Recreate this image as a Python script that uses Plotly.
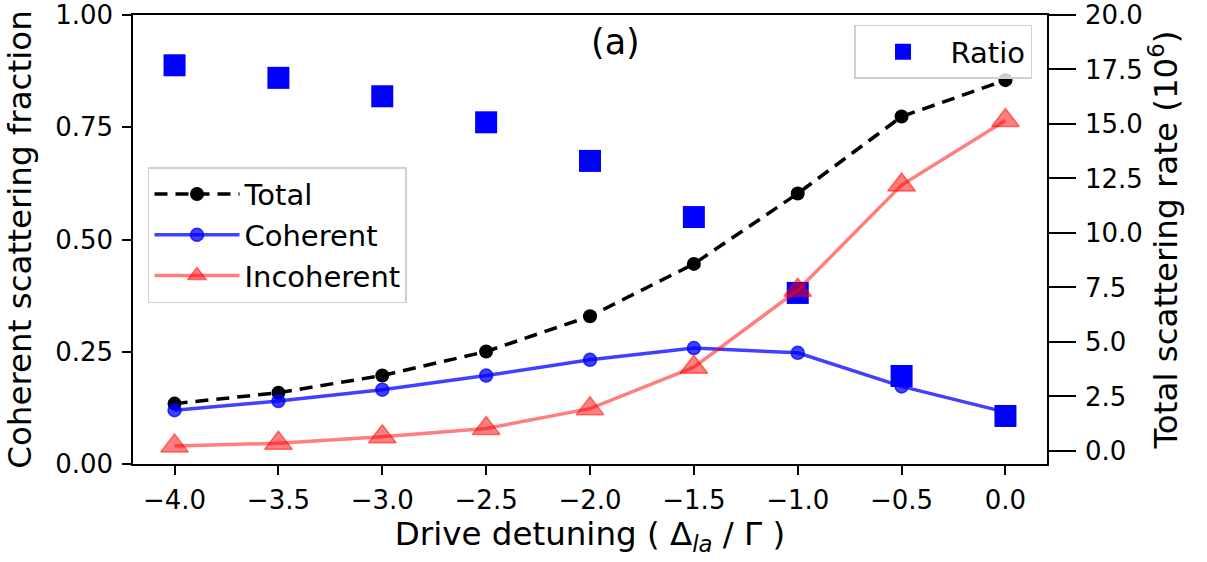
import plotly.graph_objects as go

# ---- data ----
detuning = [-4.0, -3.5, -3.0, -2.5, -2.0, -1.5, -1.0, -0.5, 0.0]
total = [2.17, 2.67, 3.46, 4.56, 6.18, 8.58, 11.81, 15.34, 17.01]
coherent = [1.87, 2.29, 2.81, 3.46, 4.18, 4.72, 4.50, 2.96, 1.78]
incoherent = [0.23, 0.35, 0.65, 1.03, 1.94, 3.84, 7.37, 12.2, 15.16]
ratio = [0.888, 0.860, 0.819, 0.761, 0.675, 0.550, 0.381, 0.196, 0.107]

x_ticks = [-4.0, -3.5, -3.0, -2.5, -2.0, -1.5, -1.0, -0.5, 0.0]
left_ticks = [0.0, 0.25, 0.5, 0.75, 1.0]
right_ticks = [0.0, 2.5, 5.0, 7.5, 10.0, 12.5, 15.0, 17.5, 20.0]

FONT = "DejaVu Sans"
TICK_SIZE = 26
TITLE_SIZE = 32.5

fig = go.Figure()

# Ratio on the left axis
fig.add_trace(go.Scatter(
    x=detuning, y=ratio, mode="markers", name="Ratio",
    marker=dict(symbol="square", size=22, color="#0000ff", line=dict(width=0)),
    xaxis="x", yaxis="y", legend="legend2",
))

# Rates on the right axis
fig.add_trace(go.Scatter(
    x=detuning, y=total, mode="lines+markers", name="Total",
    line=dict(color="black", width=3.5, dash="13px,8px"),
    marker=dict(symbol="circle", size=14, color="black"),
    xaxis="x", yaxis="y2", legend="legend",
))
fig.add_trace(go.Scatter(
    x=detuning, y=coherent, mode="lines+markers", name="Coherent",
    line=dict(color="rgba(0,0,255,0.75)", width=3.5),
    marker=dict(symbol="circle", size=13, color="rgba(0,0,255,0.75)",
                line=dict(color="rgba(0,0,255,0.75)", width=1.5)),
    xaxis="x", yaxis="y2", legend="legend",
))
fig.add_trace(go.Scatter(
    x=detuning, y=incoherent, mode="lines+markers", name="Incoherent",
    line=dict(color="rgba(255,0,0,0.5)", width=3.5),
    marker=dict(symbol="triangle-up", size=24, color="rgba(255,0,0,0.5)",
                line=dict(color="rgba(255,0,0,0.5)", width=1.5)),
    xaxis="x", yaxis="y2", legend="legend",
))

axis_common = dict(
    showline=True, linecolor="black", linewidth=1.5,
    ticks="outside", tickcolor="black", tickwidth=1.5,
    showgrid=False, zeroline=False, ticklabeloverflow="allow",
    automargin=False,
    tickfont=dict(family=FONT, size=TICK_SIZE, color="black"),
)

fig.update_layout(
    width=1207, height=562,
    margin=dict(l=133, r=160, t=15, b=98, autoexpand=False),
    paper_bgcolor="white", plot_bgcolor="white",
    font=dict(family=FONT, color="black"),
    xaxis=dict(
        range=[-4.2, 0.2], tickvals=x_ticks, tickformat=".1f", ticklen=9,
        mirror=True, ticklabelstandoff=3,
        title=dict(text="Drive detuning ( Δ<sub><i>la</i></sub> / Γ )",
                   font=dict(family=FONT, size=TITLE_SIZE, color="black"), standoff=6),
        **axis_common,
    ),
    yaxis=dict(
        range=[0, 1.0], tickvals=left_ticks, tickformat=".2f", ticklen=9,
        ticklabelstandoff=4,
        title=dict(text="Coherent scattering fraction",
                   font=dict(family=FONT, size=TITLE_SIZE, color="black"), standoff=14),
        **axis_common,
    ),
    yaxis2=dict(
        range=[-0.6, 20.0], tickvals=right_ticks, tickformat=".1f", ticklen=27,
        overlaying="y", side="right", ticklabelstandoff=4,
        title=dict(text="Total scattering rate (10<sup>6</sup>)",
                   font=dict(family=FONT, size=TITLE_SIZE, color="black"), standoff=6),
        **axis_common,
    ),
    legend=dict(
        x=0.0164, y=0.661, xanchor="left", yanchor="top", itemwidth=85,
        bgcolor="rgba(255,255,255,0.8)", bordercolor="#d0d0d0", borderwidth=1.5,
        font=dict(family=FONT, size=29, color="black"),
    ),
    legend2=dict(
        x=0.9836, y=0.978, xanchor="right", yanchor="top", itemwidth=85,
        bgcolor="rgba(255,255,255,0.8)", bordercolor="#d0d0d0", borderwidth=1.5,
        font=dict(family=FONT, size=29, color="black"),
    ),
    annotations=[dict(
        text="(a)", xref="paper", yref="paper", x=0.528, y=0.94,
        xanchor="center", yanchor="middle", showarrow=False,
        font=dict(family=FONT, size=35, color="black"),
    )],
)

fig.write_html("out.html")
